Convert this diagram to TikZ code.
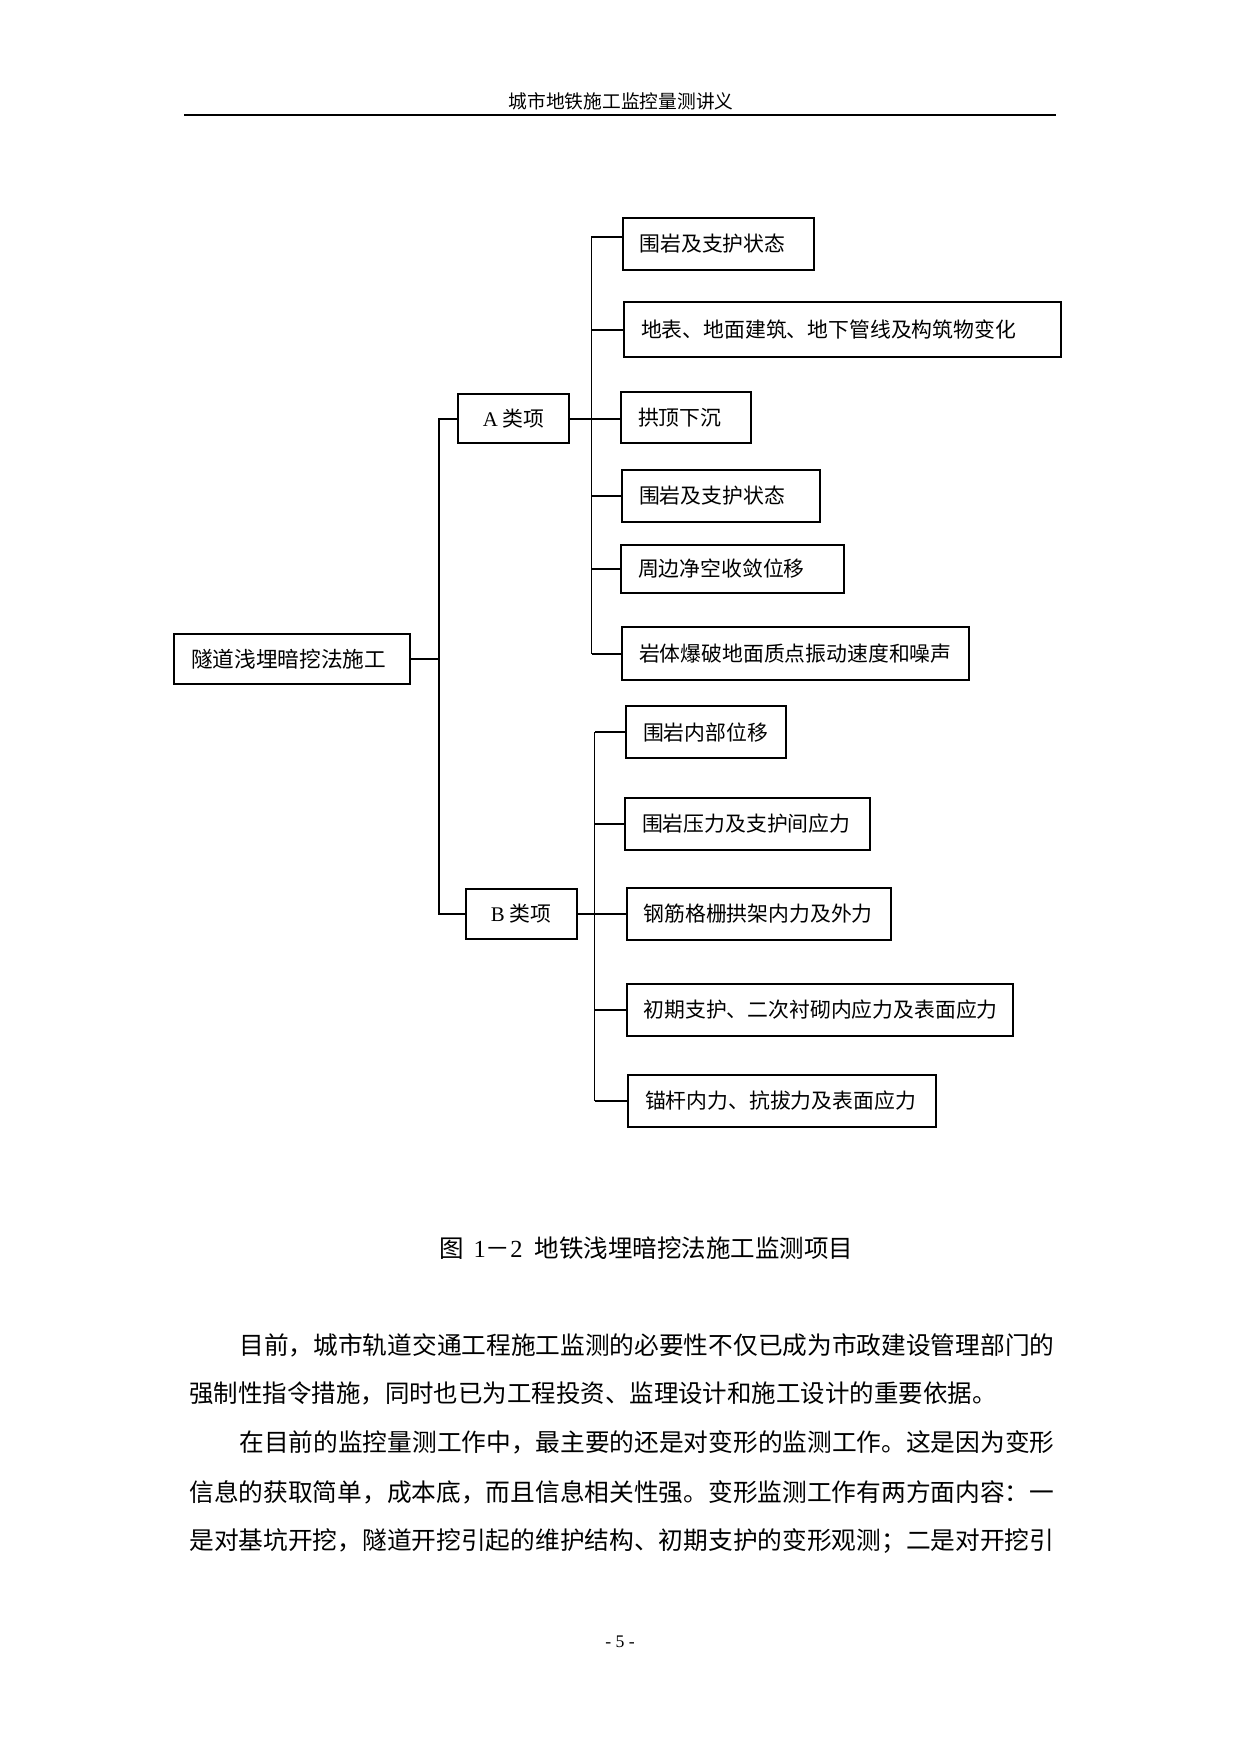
\documentclass[tikz,border=0pt]{standalone}
\usepackage{fontspec}
\usepackage{graphicx}
\setmainfont{Noto Sans CJK SC}
\newfontfamily\lat{Liberation Serif}
\newlength\px
\setlength\px{0.48pt}
\tikzset{
  itembox/.style={draw, line width=1pt, anchor=north west, inner ysep=0pt, inner xsep=8.16pt,
                  font=\fontsize{10pt}{12pt}\selectfont},
  conn/.style={line width=1pt},
  thinconn/.style={line width=0.6pt},
  txt/.style={inner sep=0pt, anchor=west},
  bodytext/.style={txt, font=\fontsize{11.8pt}{14pt}\selectfont}
}
\newcommand\itemnode[6]{%
  \pgfmathsetmacro\bw{(#4-#2)*0.48}%
  \pgfmathsetmacro\bh{(#5-#3)*0.48}%
  \pgfmathsetmacro\tw{(#4-#2-34)*0.48}%
  \node[itembox, minimum width=\bw pt, minimum height=\bh pt] (#1) at (#2,#3) {\makebox[\tw pt][l]{#6}};}
\newcommand\catnode[6]{%
  \pgfmathsetmacro\bw{(#4-#2)*0.48}%
  \pgfmathsetmacro\bh{(#5-#3)*0.48}%
  \pgfmathsetmacro\tw{(#4-#2-34)*0.48}%
  \node[itembox, minimum width=\bw pt, minimum height=\bh pt] (#1) at (#2,#3) {\makebox[\tw pt][c]{#6}};}
\begin{document}
\begin{tikzpicture}[x=0.48pt, y=-0.48pt]
\useasboundingbox[fill=white] (0,0) rectangle (1241,1754);

% header
\node[font=\fontsize{9pt}{10pt}\selectfont, inner sep=0pt] (hdr) at (621,101) {城市地铁施工监控量测讲义};
\draw[line width=1.1pt] (184,115) -- (1056,115);

% root and categories
\itemnode{root}{173}{633}{409}{683}{\fontsize{10.4pt}{12pt}\selectfont 隧道浅埋暗挖法施工}
\catnode{A}{457}{393}{568}{442}{{\lat A} 类项}
\catnode{B}{464.5}{888}{575.6}{938}{{\lat B} 类项}

% A items
\itemnode{a1}{621.5}{217}{813}{269}{围岩及支护状态}
\itemnode{a2}{623}{301}{1060}{356}{地表、地面建筑、地下管线及构筑物变化}
\itemnode{a3}{620}{391}{750}{442}{拱顶下沉}
\itemnode{a4}{621}{469}{819}{521}{围岩及支护状态}
\itemnode{a5}{620}{544}{843}{592}{周边净空收敛位移}
\itemnode{a6}{621}{626}{968}{679}{岩体爆破地面质点振动速度和噪声}

% B items
\itemnode{b1}{625}{705}{784.5}{757}{围岩内部位移}
\itemnode{b2}{624}{797}{868.6}{849}{围岩压力及支护间应力}
\itemnode{b3}{625.6}{887}{890}{939}{钢筋格栅拱架内力及外力}
\itemnode{b4}{625.6}{983}{1012}{1035}{初期支护、二次衬砌内应力及表面应力}
\itemnode{b5}{627}{1074}{934.5}{1126}{锚杆内力、抗拔力及表面应力}

% connectors
\coordinate (trunk) at (439,0);
\coordinate (bA) at (591.5,0);
\coordinate (bB) at (594.5,0);
\draw[conn] (root.east) -- (root.east -| trunk);
\draw[conn] (A.west) -- (A.west -| trunk) -- (B.west -| trunk) -- (B.west);
\draw[conn] (A.east) -- (A.east -| a3.west);
\draw[thinconn] ([yshift=3.4pt]a1.west) -- ([yshift=3.4pt]a1.west -| bA) -- (a6.west -| bA);
\foreach \n in {a2,a4,a5,a6} {\draw[conn] (\n.west) -- (\n.west -| bA);}
\draw[conn] (B.east) -- (b3.west);
\draw[thinconn] (b1.west -| bB) -- (b5.west -| bB);
\foreach \n in {b1,b2,b4} {\draw[conn] (\n.west) -- (\n.west -| bB);}
\draw[thinconn] (b5.west) -- (b5.west -| bB);

% caption
\node[bodytext] (caption) at (439,1248) {\resizebox{414\px}{\height}{图\hspace{0.4em}{\lat 1}－{\lat 2}\hspace{0.5em}地铁浅埋暗挖法施工监测项目}};

% body text
\node[bodytext] (l1) at (239,1345) {\resizebox{815\px}{\height}{目前，城市轨道交通工程施工监测的必要性不仅已成为市政建设管理部门的}};
\node[bodytext] (l2) at (189,1393) {\resizebox{807\px}{\height}{强制性指令措施，同时也已为工程投资、监理设计和施工设计的重要依据。}};
\node[bodytext] (l3) at (239,1442) {\resizebox{815\px}{\height}{在目前的监控量测工作中，最主要的还是对变形的监测工作。这是因为变形}};
\node[bodytext] (l4) at (189,1492) {\resizebox{865\px}{\height}{信息的获取简单，成本底，而且信息相关性强。变形监测工作有两方面内容：一}};
\node[bodytext] (l5) at (189,1541) {\resizebox{865\px}{\height}{是对基坑开挖，隧道开挖引起的维护结构、初期支护的变形观测；二是对开挖引}};

% page number
\node[font=\lat\fontsize{8.5pt}{10pt}\selectfont, inner sep=0pt] (pg) at (620,1642) {- 5 -};
\end{tikzpicture}
\end{document}
